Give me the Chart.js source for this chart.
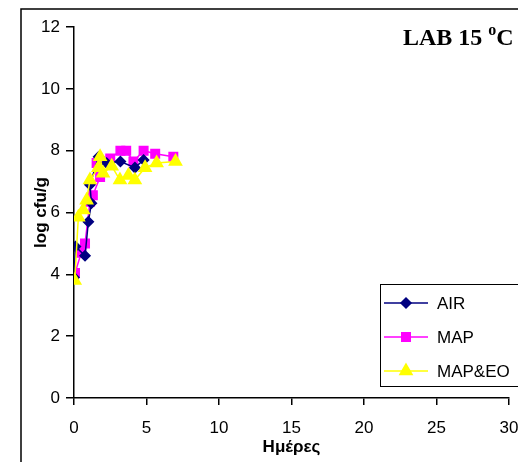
<!DOCTYPE html>
<html><head><meta charset="utf-8">
<script src="https://cdn.jsdelivr.net/npm/chart.js@4"></script>
<style>html,body{margin:0;padding:0;background:#fff;}canvas{display:block;}</style>
</head><body>
<canvas id="c" width="518" height="462"></canvas>
<script>
const seriesNames = ["AIR", "MAP", "MAP&EO"];
const airX = [0, 0.1, 0.76, 0.99, 1.2, 1.1, 1.7, 2.25, 3.2, 4.2, 4.8];
const airY = [3.9, 4.9, 4.6, 5.7, 6.3, 6.9, 7.8, 7.6, 7.65, 7.45, 7.7];
const mapX = [0.07, 0.5, 0.76, 1.1, 1.3, 1.8, 1.56, 2.5, 3.2, 3.6, 4.1, 4.8, 5.6, 6.85];
const mapY = [4.04, 4.7, 5.0, 6.35, 6.56, 7.15, 7.6, 7.75, 8.0, 8.0, 7.65, 8.0, 7.9, 7.8];
const eoX = [0.05, 0.3, 0.64, 0.87, 1.1, 1.68, 1.8, 2.0, 2.6, 3.17, 3.75, 4.2, 4.9, 5.7, 7.0];
const eoY = [3.8, 5.85, 6.08, 6.4, 7.05, 7.45, 7.8, 7.27, 7.5, 7.05, 7.2, 7.05, 7.45, 7.6, 7.65];
const xTicks = [0, 5, 10, 15, 20, 25, 30];
const yTicks = [0, 2, 4, 6, 8, 10, 12];

const pts = (xs, ys) => xs.map((x, i) => ({x: x, y: ys[i]}));
const colors = ["#000080", "#FF00FF", "#FFFF00"];
const shapes = ["rectRot", "rect", "triangle"];
const radii = [5, 6, 7];

const frame = {
  id: 'frame',
  afterDraw(chart) {
    const ctx = chart.ctx;
    ctx.save();
    ctx.strokeStyle = '#000';
    ctx.lineWidth = 1.5;
    ctx.beginPath();
    ctx.moveTo(21, 462); ctx.lineTo(21, 9); ctx.lineTo(518, 9);
    ctx.stroke();
    // title
    ctx.fillStyle = '#000';
    ctx.textBaseline = 'alphabetic';
    ctx.font = 'bold 24px "Liberation Serif", "Times New Roman", serif';
    ctx.fillText('LAB 15 ', 403, 45);
    let w = ctx.measureText('LAB 15 ').width;
    ctx.font = 'bold 16px "Liberation Serif", serif';
    ctx.fillText('o', 403 + w, 35);
    let w2 = ctx.measureText('o').width;
    ctx.font = 'bold 24px "Liberation Serif", "Times New Roman", serif';
    ctx.fillText('C', 403 + w + w2, 45);
    // legend
    ctx.lineWidth = 1;
    ctx.strokeRect(380.5, 284.5, 160, 102);
    ctx.font = '17px "Liberation Sans", Arial, sans-serif';
    ctx.textBaseline = 'middle';
    seriesNames.forEach((n, i) => {
      const y = 303 + i * 34;
      ctx.strokeStyle = colors[i];
      ctx.lineWidth = 1.5;
      ctx.beginPath(); ctx.moveTo(384, y); ctx.lineTo(428, y); ctx.stroke();
      ctx.fillStyle = colors[i];
      Chart.helpers.drawPoint(ctx, {pointStyle: shapes[i], radius: radii[i], rotation: 0, borderWidth: 1}, 406, y);
      ctx.fillStyle = '#000';
      ctx.fillText(n, 437, y + 1);
    });
    ctx.restore();
  }
};

const ds = [pts(airX, airY), pts(mapX, mapY), pts(eoX, eoY)].map((d, i) => ({
  label: seriesNames[i],
  data: d,
  showLine: true,
  borderColor: colors[i],
  backgroundColor: colors[i],
  pointBackgroundColor: colors[i],
  pointBorderColor: colors[i],
  pointStyle: shapes[i],
  pointRadius: radii[i],
  borderWidth: 1.5,
  tension: 0
}));
ds[0].order = 1; ds[1].order = 2; ds[2].order = 0;

new Chart(document.getElementById('c'), {
  type: 'scatter',
  data: {datasets: ds},
  options: {
    responsive: false,
    animation: false,
    events: [],
    layout: {padding: {left: 31, top: 27, right: 9, bottom: 0}},
    plugins: {legend: {display: false}, tooltip: {enabled: false}},
    scales: {
      x: {
        type: 'linear', min: 0, max: 30,
        afterBuildTicks: s => { s.ticks = xTicks.map(v => ({value: v})); },
        afterFit: s => { s.height = 64; s.paddingRight = 0; s.paddingLeft = 0; },
        grid: {drawOnChartArea: false, tickLength: 7, color: '#000', lineWidth: 1.5},
        border: {color: '#000', width: 1.5},
        ticks: {color: '#000', font: {family: '"Liberation Sans", Arial', size: 17}, padding: 13, maxRotation: 0},
        title: {display: true, text: 'Ημέρες', color: '#000', font: {family: '"Liberation Sans", Arial', size: 17, weight: 'bold'}, padding: {top: 0, bottom: 4}}
      },
      y: {
        type: 'linear', min: 0, max: 12,
        afterBuildTicks: s => { s.ticks = yTicks.map(v => ({value: v})); },
        afterFit: s => { s.width = 43; s.paddingTop = 0; s.paddingBottom = 0; },
        grid: {drawOnChartArea: false, tickLength: 8, color: '#000', lineWidth: 1.5},
        border: {color: '#000', width: 1.5},
        ticks: {color: '#000', font: {family: '"Liberation Sans", Arial', size: 17}, padding: 6},
        title: {display: true, text: 'log cfu/g', color: '#000', font: {family: '"Liberation Sans", Arial', size: 17, weight: 'bold'}, padding: {top: 0, bottom: 0}}
      }
    }
  },
  plugins: [frame]
});
</script>
</body></html>
